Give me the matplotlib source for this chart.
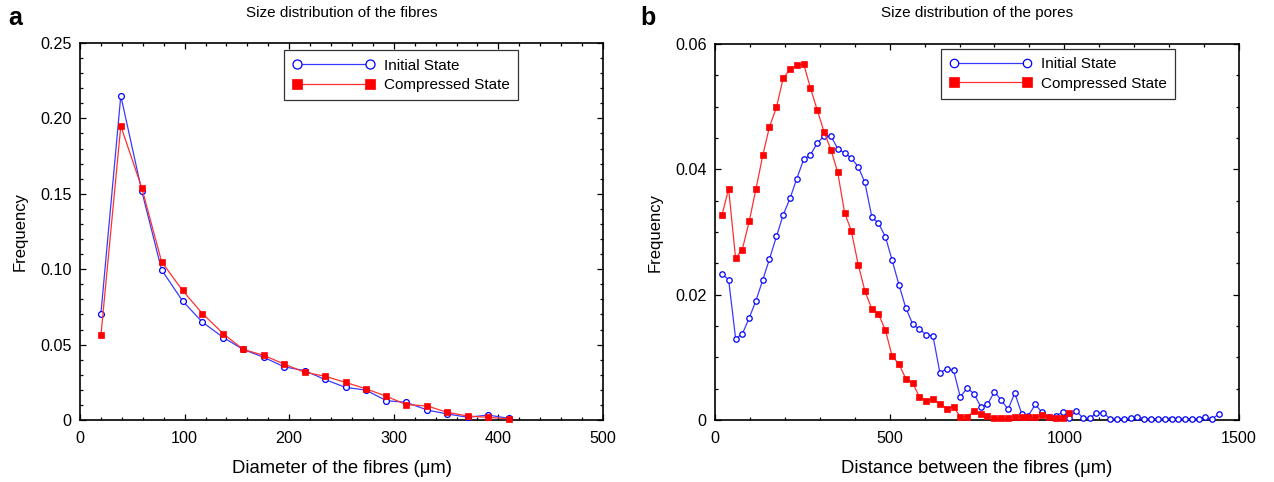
import matplotlib
matplotlib.use('Agg')
import matplotlib.pyplot as plt
from matplotlib.ticker import MultipleLocator, FixedLocator, FixedFormatter

plt.rcParams['font.family'] = ['Liberation Sans', 'DejaVu Sans']

# ---------------- data ----------------
fibre_diam = [20, 39, 59, 78, 98, 117, 137, 156, 176, 195, 215, 234, 254, 273,
              293, 312, 332, 351, 371, 390, 410]
fibre_initial = [0.0706, 0.215, 0.152, 0.0996, 0.0790, 0.0649, 0.0547, 0.0468,
                 0.0415, 0.0353, 0.0327, 0.0269, 0.0216, 0.0199, 0.0128, 0.0117,
                 0.0066, 0.0040, 0.0018, 0.0033, 0.0011]
fibre_compressed = [0.0561, 0.195, 0.154, 0.105, 0.0859, 0.0706, 0.0572, 0.0468,
                    0.0428, 0.0371, 0.0316, 0.0291, 0.0249, 0.0208, 0.0157, 0.0102,
                    0.0093, 0.0051, 0.0026, 0.0018, 0.0007]

pore_dist = [20, 39, 59, 78, 98, 117, 137, 156, 176, 195,
             215, 234, 254, 273, 293, 312, 332, 351, 371, 390,
             410, 429, 449, 468, 488, 507, 527, 546, 566, 585,
             605, 624, 644, 663, 683, 702, 722, 741, 761, 780,
             800, 819, 839, 858, 878, 897, 917, 936, 956, 975,
             995, 1014, 1034, 1053, 1073, 1092, 1112, 1131, 1151, 1170,
             1190, 1209, 1229, 1248, 1268, 1287, 1307, 1326, 1346, 1365,
             1385, 1404, 1424, 1443]
pore_initial = [0.0233, 0.0224, 0.0130, 0.0137, 0.0163, 0.0190, 0.0224, 0.0257, 0.0293, 0.0327,
                0.0354, 0.0385, 0.0416, 0.0423, 0.0442, 0.0453, 0.0453, 0.0433, 0.0426, 0.0418,
                0.0404, 0.0379, 0.0324, 0.0314, 0.0292, 0.0255, 0.0215, 0.0179, 0.0153, 0.0145,
                0.0136, 0.0134, 0.0075, 0.0082, 0.0079, 0.0037, 0.0051, 0.0042, 0.0021, 0.0025,
                0.0045, 0.0032, 0.0017, 0.0043, 0.0010, 0.0007, 0.0025, 0.0012, 0.0005, 0.0007,
                0.0012, 0.0003, 0.0015, 0.0003, 0.0003, 0.0011, 0.0011, 0.0002, 0.0002, 0.0002,
                0.0003, 0.0005, 0.0002, 0.0002, 0.0002, 0.0002, 0.0002, 0.0002, 0.0002, 0.0002,
                0.0002, 0.0004, 0.0002, 0.0010]
pore_compressed = [0.0327, 0.0369, 0.0258, 0.0272, 0.0317, 0.0368, 0.0423, 0.0468, 0.0499, 0.0545,
                   0.0560, 0.0566, 0.0568, 0.0530, 0.0494, 0.0460, 0.0431, 0.0396, 0.0331, 0.0302,
                   0.0248, 0.0206, 0.0177, 0.0169, 0.0143, 0.0102, 0.0089, 0.0066, 0.0059, 0.0037,
                   0.0031, 0.0033, 0.0026, 0.0018, 0.0021, 0.0005, 0.0005, 0.0014, 0.0010, 0.0007,
                   0.0003, 0.0003, 0.0003, 0.0005, 0.0005, 0.0004, 0.0004, 0.0008, 0.0004, 0.0003,
                   0.0003, 0.0011]

series_labels = ['Initial State', 'Compressed State']
fibre_xticks = [0, 100, 200, 300, 400, 500]
fibre_yticks = [0, 0.05, 0.10, 0.15, 0.20, 0.25]
fibre_yticklabels = ['0', '0.05', '0.10', '0.15', '0.20', '0.25']
pore_xticks = [0, 500, 1000, 1500]
pore_yticks = [0, 0.02, 0.04, 0.06]
pore_yticklabels = ['0', '0.02', '0.04', '0.06']

# ---------------- style ----------------
BLUE = '#0000ff'
BLUE_LINE = '#3a3aff'
RED = '#ff0000'
RED_LINE = '#ff3030'
W, H = 1274, 482

fig = plt.figure(figsize=(W / 100, H / 100), dpi=100)

def px_axes(l, t, r, b):
    return fig.add_axes([l / W, 1 - b / H, (r - l) / W, (b - t) / H])

ax1 = px_axes(80, 43, 603, 420)
ax2 = px_axes(715, 44, 1239, 420)


def style(ax, xticks, yticks, ylabels, xminor, yminor, xlim, ylim):
    ax.set_xlim(*xlim)
    ax.set_ylim(*ylim)
    ax.xaxis.set_major_locator(FixedLocator(xticks))
    ax.xaxis.set_major_formatter(FixedFormatter([str(v) for v in xticks]))
    ax.yaxis.set_major_locator(FixedLocator(yticks))
    ax.yaxis.set_major_formatter(FixedFormatter(ylabels))
    ax.xaxis.set_minor_locator(MultipleLocator(xminor))
    ax.yaxis.set_minor_locator(MultipleLocator(yminor))
    ax.tick_params(which='both', direction='in', top=True, right=True,
                   labelsize=11.6, width=0.9, colors='black')
    ax.tick_params(which='major', length=4, pad=6)
    ax.tick_params(axis='x', which='major', pad=8)
    ax.tick_params(which='minor', length=2.5)
    for s in ax.spines.values():
        s.set_linewidth(1.2)
        s.set_color('black')


def draw(ax, x, yi, yc, ms_c, ms_s):
    ax.plot(x, yi, '-', color=BLUE_LINE, lw=0.9, marker='o', ms=ms_c,
            mfc='white', mec=BLUE, mew=0.9, label=series_labels[0],
            clip_on=False, zorder=3)
    ax.plot(x[:len(yc)], yc, '-', color=RED_LINE, lw=0.9, marker='s', ms=ms_s,
            mfc=RED, mec=RED, mew=0.5, label=series_labels[1],
            clip_on=False, zorder=4)


draw(ax1, fibre_diam, fibre_initial, fibre_compressed, 4.2, 4.4)
draw(ax2, pore_dist, pore_initial, pore_compressed, 3.9, 4.3)

style(ax1, fibre_xticks, fibre_yticks, fibre_yticklabels, 20, 0.01, (0, 500), (0, 0.25))
style(ax2, pore_xticks, pore_yticks, pore_yticklabels, 100, 0.005, (0, 1500), (0, 0.06))


def legend(ax, anchor):
    leg = ax.legend(loc='upper right', bbox_to_anchor=anchor, borderaxespad=0,
                    numpoints=2, handlelength=5.4, handletextpad=0.6,
                    markerscale=1.55, fontsize=11, fancybox=False,
                    framealpha=1, edgecolor='#333333', borderpad=0.55,
                    labelspacing=0.35, shadow=False)
    leg.get_frame().set_linewidth(0.9)
    return leg


legend(ax1, (0.8375, 0.981))
legend(ax2, (0.878, 0.987))

ax1.set_xlabel('Diameter of the fibres (\u03bcm)', fontsize=13.3, labelpad=10)
ax2.set_xlabel('Distance between the fibres (\u03bcm)', fontsize=13.3, labelpad=10)
ax1.set_ylabel('Frequency', fontsize=12, labelpad=9)
ax2.set_ylabel('Frequency', fontsize=12, labelpad=9)

fig.text(341.5 / W, 1 - 13 / H, 'Size distribution of the fibres', ha='center', va='center', fontsize=11)
fig.text(977 / W, 1 - 13 / H, 'Size distribution of the pores', ha='center', va='center', fontsize=11)
fig.text(8 / W, 1 - 18 / H, 'a', ha='left', va='center', fontsize=18, fontweight='bold')
fig.text(640 / W, 1 - 18 / H, 'b', ha='left', va='center', fontsize=18, fontweight='bold')

fig.savefig('out.png', dpi=100)
